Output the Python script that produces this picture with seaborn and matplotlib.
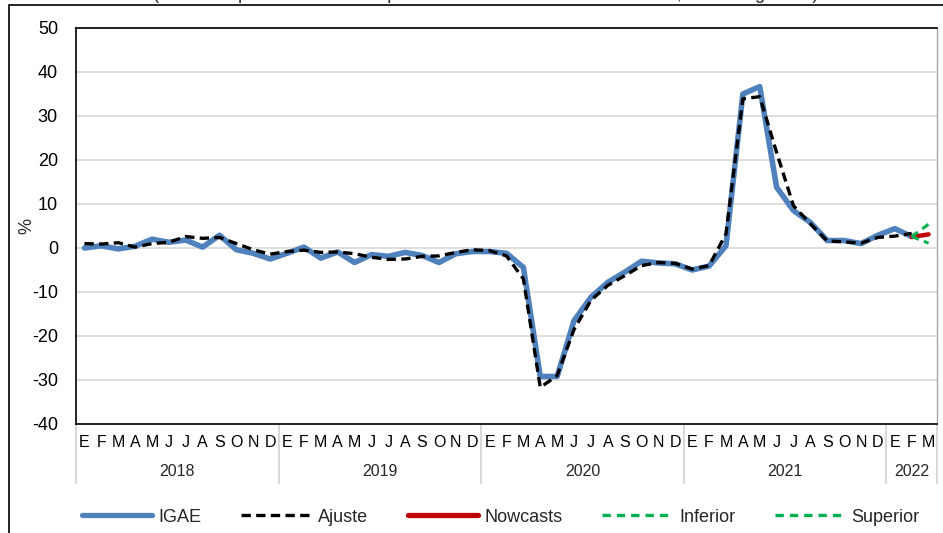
import pandas as pd
import matplotlib.pyplot as plt
import seaborn as sns
from matplotlib.lines import Line2D
from matplotlib.patches import Rectangle

# Monthly labels, Jan 2018 - Mar 2022
years = ['2018', '2019', '2020', '2021', '2022']
months_per_year = [12, 12, 12, 12, 3]
month_letters = ['E', 'F', 'M', 'A', 'M', 'J', 'J', 'A', 'S', 'O', 'N', 'D']

# IGAE annual variation (%), Jan 2018 - Feb 2022
igae = [0.0, 0.5, -0.2, 0.4, 2.0, 1.3, 1.8, 0.2, 2.9, -0.4, -1.2, -2.5,
        -1.2, 0.2, -2.3, -0.9, -3.3, -1.5, -1.9, -1.0, -1.7, -3.3, -1.3, -0.8,
        -0.8, -1.2, -4.4, -29.2, -29.2, -16.5, -11.2, -7.8, -5.5, -3.0, -3.4, -3.6,
        -5.0, -4.1, 0.5, 35.0, 36.7, 13.8, 8.5, 5.8, 1.7, 1.7, 1.0, 2.9,
        4.4, 2.6]

# Model fit (%), Jan 2018 - Feb 2022
ajuste = [1.0, 0.9, 1.2, 0.2, 1.0, 1.3, 2.6, 2.2, 2.4, 1.0, -0.4, -1.4,
          -0.8, -0.5, -1.0, -0.9, -1.3, -2.1, -2.6, -2.5, -1.9, -1.8, -1.0, -0.4,
          -0.6, -1.8, -7.0, -31.7, -29.0, -18.5, -11.9, -8.5, -6.3, -4.0, -3.3, -3.5,
          -4.8, -4.0, 3.2, 33.9, 34.4, 21.7, 9.6, 5.5, 1.6, 1.4, 1.1, 2.4,
          2.7, 3.3]

# Nowcast and interval, Feb - Mar 2022
nowcasts = [2.5, 3.1]
inferior = [2.6, 1.1]
superior = [2.6, 5.4]

# build month labels
month_labels = []
for n in months_per_year:
    month_labels += month_letters[:n]
n_months = len(month_labels)

df_hist = pd.DataFrame({'t': range(len(igae)), 'IGAE': igae, 'Ajuste': ajuste})
df_now = pd.DataFrame({'t': [n_months - 2, n_months - 1], 'Nowcasts': nowcasts,
                       'Inferior': inferior, 'Superior': superior})

sns.set_theme(style='white')
plt.rcParams['font.family'] = ['Liberation Sans', 'DejaVu Sans']
plt.rcParams['axes.unicode_minus'] = False

fig = plt.figure(figsize=(9.43, 5.33), dpi=100)
ax = fig.add_axes([76 / 943, 1 - 424 / 533, 861 / 943, 396 / 533])

blue = '#4F81BD'
red = '#C00000'
green = '#00B050'

sns.lineplot(data=df_hist, x='t', y='IGAE', ax=ax, color=blue, linewidth=4.0,
             solid_joinstyle='round', legend=False)
sns.lineplot(data=df_hist, x='t', y='Ajuste', ax=ax, color='black', linewidth=2.4,
             linestyle=(0, (2.8, 1.6)), legend=False)
sns.lineplot(data=df_now, x='t', y='Nowcasts', ax=ax, color=red, linewidth=3.2,
             solid_capstyle='round', legend=False)
sns.lineplot(data=df_now, x='t', y='Inferior', ax=ax, color=green, linewidth=2.2,
             linestyle=(0, (2.5, 1.8)), legend=False)
sns.lineplot(data=df_now, x='t', y='Superior', ax=ax, color=green, linewidth=2.2,
             linestyle=(0, (2.5, 1.8)), legend=False)

ax.set_xlim(-0.5, n_months - 0.5)
ax.set_ylim(-40, 50)
ax.set_yticks(range(-40, 51, 10))
ax.yaxis.grid(True, color='#D9D9D9', linewidth=1.2)
ax.set_axisbelow(True)
ax.tick_params(axis='y', length=0, pad=13, labelsize=13, colors='black')

ax.set_xticks(range(n_months))
ax.set_xticklabels(month_labels, fontsize=11.5)
ax.tick_params(axis='x', length=0, pad=8, colors='black')
ax.set_xlabel('')
ax.set_ylabel('%', fontsize=13)
ax.yaxis.set_label_coords(-0.047, 0.50)

for side in ['left', 'bottom', 'top']:
    ax.spines[side].set_color('black')
    ax.spines[side].set_linewidth(1.2)
ax.spines['right'].set_color('#A6A6A6')
ax.spines['right'].set_linewidth(1.0)

# year separators and labels below the axis
trans = ax.get_xaxis_transform()
bounds = [-0.5]
for n in months_per_year:
    bounds.append(bounds[-1] + n)
for b in bounds:
    ax.plot([b, b], [0, -0.148], transform=trans, color='#D9D9D9',
            linewidth=1.5, clip_on=False)
for yr, lo, hi in zip(years, bounds[:-1], bounds[1:]):
    ax.text((lo + hi) / 2, -0.121, yr, transform=trans, ha='center',
            va='center', fontsize=11.5)

# outer chart frame
fig.patches.append(Rectangle((9 / 943, -0.05), 1.1, 1 - 5 / 533 + 0.05,
                             transform=fig.transFigure, fill=False,
                             edgecolor='black', linewidth=1.2))

# subtitle, cut off at the top edge as in the source
fig.text(0.515, 1 + 1 / 533,
         '(Variación porcentual real respecto al mismo mes del año anterior, cifras originales)',
         ha='center', va='baseline', fontsize=13)

handles = [
    Line2D([], [], color=blue, linewidth=3.8),
    Line2D([], [], color='black', linewidth=2.4, linestyle=(0, (2.8, 1.6))),
    Line2D([], [], color=red, linewidth=3.8),
    Line2D([], [], color=green, linewidth=2.4, linestyle=(0, (2.5, 1.8))),
    Line2D([], [], color=green, linewidth=2.4, linestyle=(0, (2.5, 1.8))),
]
fig.legend(handles, ['IGAE', 'Ajuste', 'Nowcasts', 'Inferior', 'Superior'],
           loc='center', bbox_to_anchor=(0.531, 0.03), ncol=5, frameon=False,
           fontsize=13, handlelength=3.9, handletextpad=0.35, columnspacing=2.2)

fig.savefig('out.png', dpi=100)
